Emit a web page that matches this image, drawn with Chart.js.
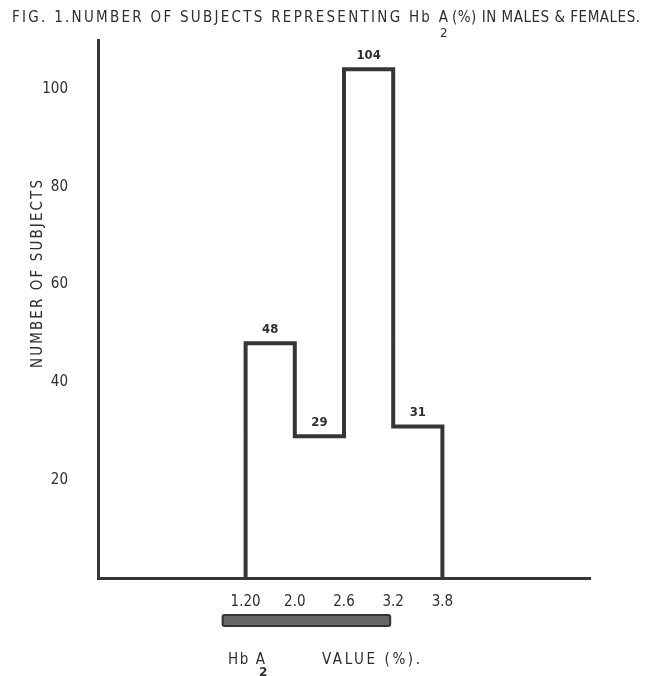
<!DOCTYPE html>
<html>
<head>
<meta charset="utf-8">
<script src="https://cdn.jsdelivr.net/npm/chart.js@4.4.1/dist/chart.umd.min.js"></script>
<style>
    html, body { margin: 0; padding: 0; background: #fff; }
    #wrap { width: 650px; height: 676px; }
</style>
</head>
<body>
<div id="wrap"><canvas id="histChart" width="650" height="676"></canvas></div>
<script>
// data
const binEdgeLabels = ['1.20', '2.0', '2.6', '3.2', '3.8'];
const subjectCounts = [48, 29, 104, 31];
const yTickValues = [20, 40, 60, 80, 100];
const emptySlotsBefore = 3;   // empty axis room before the first bin
const axisSlots = 10;
const yMax = 110;

const ink = '#2e2e2e';
const fontFamily = '"DejaVu Sans", sans-serif';
const narrowFamily = '"DejaVu Sans Condensed", "Liberation Sans Narrow", sans-serif';

// build the step outline of the histogram from edges + counts
const outline = [];
subjectCounts.forEach((n, i) => {
    const x0 = emptySlotsBefore + i;
    if (i === 0) outline.push({ x: x0, y: 0 });
    outline.push({ x: x0, y: n }, { x: x0 + 1, y: n });
});
outline.push({ x: emptySlotsBefore + subjectCounts.length, y: 0 });

// draw text stretched to a given width with letter spacing
function drawSpaced(ctx, text, x, y, width) {
    ctx.letterSpacing = '0px';
    const w0 = ctx.measureText(text).width;
    const gap = (width - w0) / Math.max(1, text.length - 1);
    ctx.letterSpacing = gap + 'px';
    ctx.fillText(text, x, y);
    ctx.letterSpacing = '0px';
}

const decorPlugin = {
    id: 'decor',
    afterDraw(chart) {
        const ctx = chart.ctx;
        const xs = chart.scales.x;
        const ys = chart.scales.y;
        ctx.save();
        ctx.fillStyle = ink;
        ctx.textAlign = 'left';
        ctx.textBaseline = 'middle';

        // figure title with subscript
        ctx.font = '15px ' + narrowFamily;
        drawSpaced(ctx, 'FIG. 1.NUMBER OF SUBJECTS REPRESENTING Hb A', 12, 18, 436);
        drawSpaced(ctx, '(%) IN MALES & FEMALES.', 452, 18, 188);
        ctx.font = '12px ' + fontFamily;
        ctx.fillText('2', 440, 34);

        // y axis title
        ctx.save();
        ctx.translate(38, 274);
        ctx.rotate(-Math.PI / 2);
        ctx.font = '15px ' + narrowFamily;
        drawSpaced(ctx, 'NUMBER OF SUBJECTS', -94, 0, 188);
        ctx.restore();

        // value labels above each bin
        ctx.font = 'bold 13px ' + narrowFamily;
        ctx.textAlign = 'center';
        ctx.textBaseline = 'bottom';
        subjectCounts.forEach((n, i) => {
            const cx = xs.getPixelForValue(emptySlotsBefore + i + 0.5);
            ctx.fillText(String(n), cx, ys.getPixelForValue(n) - 7);
        });

        // thick grey bar under the tick labels
        const bx0 = xs.getPixelForValue(emptySlotsBefore) - 23;
        const bx1 = xs.getPixelForValue(emptySlotsBefore + 3) - 3;
        ctx.fillStyle = '#666';
        ctx.strokeStyle = '#333';
        ctx.lineWidth = 2;
        ctx.beginPath();
        ctx.roundRect(bx0, 615, bx1 - bx0, 11, 2);
        ctx.fill();
        ctx.stroke();

        // x axis title with subscript
        ctx.fillStyle = ink;
        ctx.textAlign = 'left';
        ctx.textBaseline = 'middle';
        ctx.font = '15px ' + narrowFamily;
        drawSpaced(ctx, 'Hb A', 228, 660, 37);
        drawSpaced(ctx, 'VALUE (%).', 322, 660, 98);
        ctx.font = 'bold 12px ' + fontFamily;
        ctx.fillText('2', 259, 673);

        ctx.restore();
    }
};

new Chart(document.getElementById('histChart'), {
    type: 'line',
    data: {
        datasets: [{
            data: outline,
            borderColor: '#363636',
            borderWidth: 4,
            borderJoinStyle: 'miter',
            pointRadius: 0,
            tension: 0,
            fill: false
        }]
    },
    options: {
        responsive: false,
        animation: false,
        layout: { padding: { top: 40, right: 60, left: 0, bottom: 0 } },
        plugins: {
            legend: { display: false },
            tooltip: { enabled: false }
        },
        scales: {
            x: {
                type: 'linear',
                min: 0,
                max: axisSlots,
                afterBuildTicks: (scale) => {
                    scale.ticks = binEdgeLabels.map((_, i) => ({ value: emptySlotsBefore + i }));
                },
                afterFit: (scale) => { scale.height = 98; },
                ticks: {
                    autoSkip: false,
                    maxRotation: 0,
                    padding: 15,
                    color: ink,
                    font: { family: narrowFamily, size: 15 },
                    callback: (v) => binEdgeLabels[v - emptySlotsBefore] ?? ''
                },
                grid: { display: false, drawTicks: false },
                border: { display: true, color: '#363636', width: 3 }
            },
            y: {
                min: 0,
                max: yMax,
                afterBuildTicks: (scale) => {
                    scale.ticks = yTickValues.map(v => ({ value: v }));
                },
                afterFit: (scale) => { scale.width = 98; },
                ticks: {
                    padding: 30,
                    color: ink,
                    font: { family: narrowFamily, size: 15 }
                },
                grid: { display: false, drawTicks: false },
                border: { display: true, color: '#363636', width: 3 }
            }
        }
    },
    plugins: [decorPlugin]
});
</script>
</body>
</html>
